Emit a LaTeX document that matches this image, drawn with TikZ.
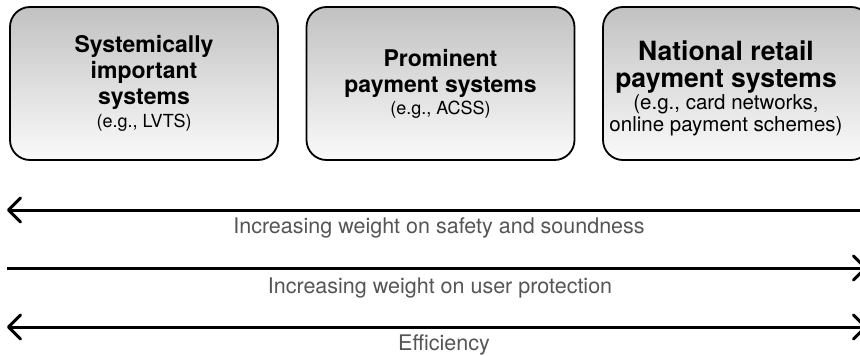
\documentclass[tikz,border=0pt]{standalone}
\usepackage{fontspec}
\setmainfont{TeX Gyre Heros}
\usetikzlibrary{arrows.meta, positioning}
\definecolor{labelgray}{HTML}{555555}
\tikzset{
  sysbox/.style={draw, line width=1.8pt, rounded corners=20pt, minimum width=268pt,
    minimum height=153pt, top color=black!24, bottom color=black!2, align=center,
    inner sep=0pt, font=\boxhead},
  bigtext/.style={align=center, inner sep=0pt, font=\boxheadL},
  scale line/.style={line width=3pt, arrows={Straight Barb[length=12pt,width=24pt,round]-Straight Barb[length=12pt,width=24pt,round]}},
  scale label/.style={text=labelgray, font=\fontsize{21.5}{26}\selectfont}
}
\newcommand{\boxhead}{\fontsize{23}{26}\selectfont\bfseries}
\newcommand{\boxnote}{\fontsize{18}{26}\selectfont\mdseries}
\newcommand{\boxheadL}{\fontsize{26.5}{27}\selectfont\bfseries}
\newcommand{\boxnoteL}{\fontsize{20.5}{27}\selectfont\mdseries}

\begin{document}
\begin{tikzpicture}[x=1pt, y=-1pt]
	\useasboundingbox (0,0) rectangle (860,356);
	% the three kinds of systems
	\node[sysbox] (sip) at (144,83.5) {Systemically\\important\\systems\\[-3pt]\boxnote (e.g., LVTS)};
	\node[sysbox] (pps) at (440.5,83.5) {Prominent\\payment systems\\[-4pt]\boxnote (e.g., ACSS)};
	\node[sysbox] (nrp) at (737,83.5) {};
	\node[bigtext] (nrpt) at (726,88) {National retail\\payment systems\\[-5pt]\boxnoteL (e.g., card networks,\\[-5pt]\boxnoteL online payment schemes)};
	% scales
	\coordinate (safew) at (7,210);   \coordinate (safee) at (867,210);
	\coordinate (userw) at (7,268);   \coordinate (usere) at (867,268);
	\coordinate (effw) at (7,327);    \coordinate (effe) at (867,327);
	\draw[scale line, arrows={Straight Barb[length=12pt,width=24pt,round]-}] (safew) -- (safee);
	\draw[scale line, arrows={-Straight Barb[length=12pt,width=24pt,round]}] (userw) -- (usere);
	\draw[scale line] (effw) -- (effe);
	\node[scale label] (safel) at (439,228) {Increasing weight on safety and soundness};
	\node[scale label] (userl) at (440,288) {Increasing weight on user protection};
	\node[scale label] (effl) at (444,345) {Efficiency};
\end{tikzpicture}
\end{document}
